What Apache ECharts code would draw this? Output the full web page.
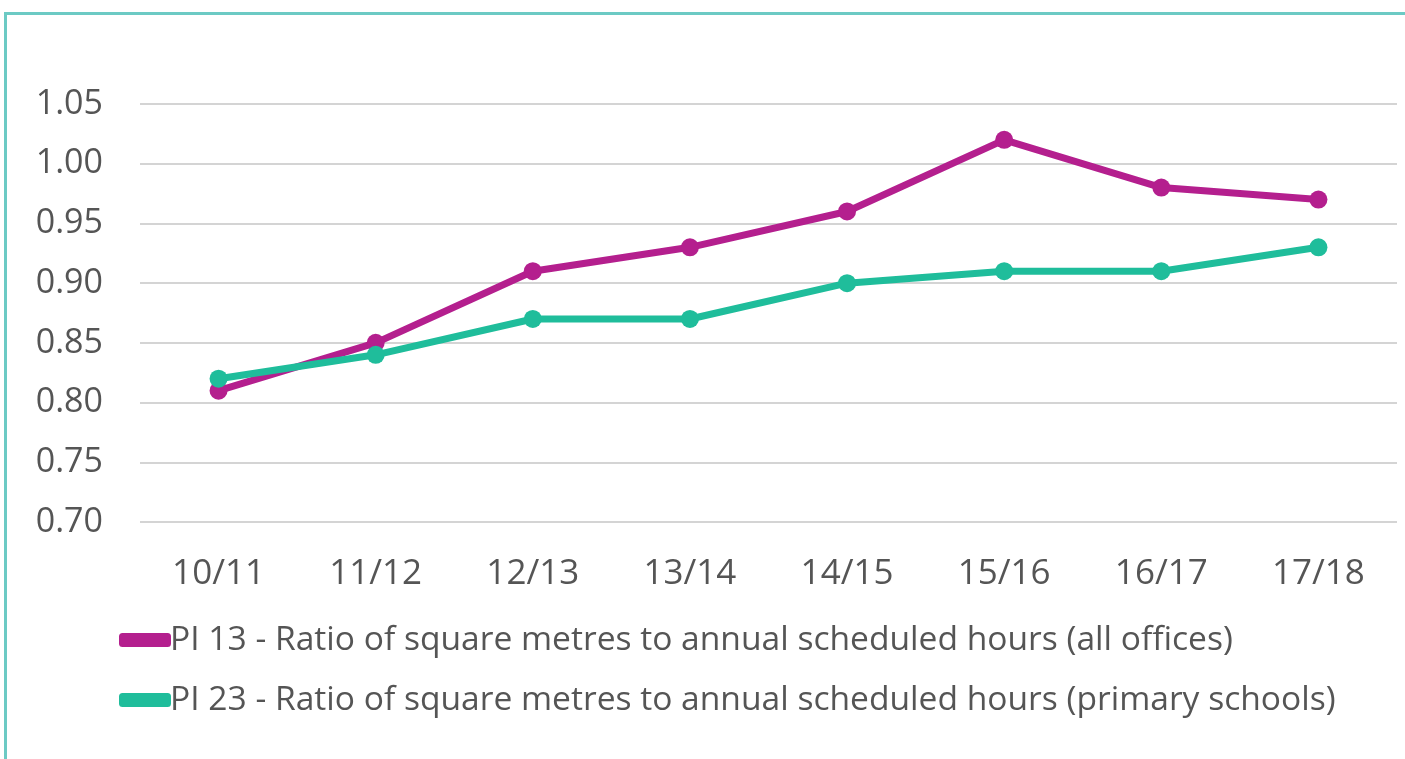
<!DOCTYPE html>
<html>
<head>
<meta charset="utf-8">
<script src="https://cdn.jsdelivr.net/npm/echarts@6/dist/echarts.min.js"></script>
<style>
  html, body { margin: 0; padding: 0; background: #fff; }
  #frame {
    position: absolute; left: 4px; top: 12px; width: 1420px; height: 780px;
    border-top: 3px solid #6ccac4; border-left: 3px solid #6ccac4;
  }
  #main { position: absolute; left: 0; top: 0; width: 1405px; height: 759px; }
</style>
</head>
<body>
<div id="frame"></div>
<div id="main"></div>
<script>
// 年度
const years = ['10/11', '11/12', '12/13', '13/14', '14/15', '15/16', '16/17', '17/18'];
// 两条指标
const pi13 = [0.81, 0.85, 0.91, 0.93, 0.96, 1.02, 0.98, 0.97];
const pi23 = [0.82, 0.84, 0.87, 0.87, 0.90, 0.91, 0.91, 0.93];
const seriesNames = [
  'PI 13 - Ratio of square metres to annual scheduled hours (all offices)',
  'PI 23 - Ratio of square metres to annual scheduled hours (primary schools)'
];

const font = '"Open Sans", sans-serif';
const textColor = '#555555';

const chart = echarts.init(document.getElementById('main'), null, { renderer: 'canvas' });

function lineSeries(name, data, color) {
  return {
    name: name,
    type: 'line',
    data: data,
    symbol: 'circle',
    symbolSize: 18,
    lineStyle: { width: 7, color: color },
    itemStyle: { color: color },
    animation: false
  };
}

chart.setOption({
  backgroundColor: 'transparent',
  grid: { left: 140, right: 8, top: 104, bottom: 237 },
  legend: {
    orient: 'vertical',
    left: 114,
    top: 618,
    itemWidth: 52,
    itemHeight: 14,
    itemGap: 26,
    icon: 'roundRect',
    textStyle: { fontFamily: font, fontSize: 33.6, color: textColor, padding: [0, 0, 0, -6] },
    data: seriesNames
  },
  xAxis: {
    type: 'category',
    data: years,
    boundaryGap: true,
    axisLine: { show: false },
    axisTick: { show: false },
    axisLabel: { fontFamily: font, fontSize: 35, color: textColor, margin: 35 }
  },
  yAxis: {
    type: 'value',
    min: 0.70,
    max: 1.05,
    interval: 0.05,
    axisLine: { show: false },
    axisTick: { show: false },
    axisLabel: {
      fontFamily: font, fontSize: 34, color: textColor, margin: 37,
      formatter: v => v.toFixed(2)
    },
    splitLine: { lineStyle: { color: '#d4d4d4', width: 2 } }
  },
  series: [
    lineSeries(seriesNames[0], pi13, '#b41f8e'),
    lineSeries(seriesNames[1], pi23, '#1fbd9b')
  ]
});
</script>
</body>
</html>
